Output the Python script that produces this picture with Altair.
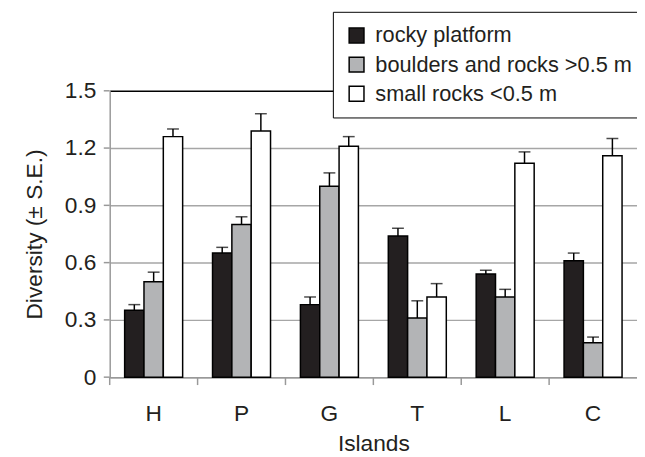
import altair as alt
import pandas as pd

islands = ["H", "P", "G", "T", "L", "C"]
habitats = ["rocky platform", "boulders and rocks >0.5 m", "small rocks <0.5 m"]
rocky_platform = [0.35, 0.65, 0.38, 0.74, 0.54, 0.61]
rocky_platform_se = [0.03, 0.03, 0.04, 0.04, 0.02, 0.04]
boulders = [0.50, 0.80, 1.00, 0.31, 0.42, 0.18]
boulders_se = [0.05, 0.04, 0.07, 0.09, 0.04, 0.03]
small_rocks = [1.26, 1.29, 1.21, 0.42, 1.12, 1.16]
small_rocks_se = [0.04, 0.09, 0.05, 0.07, 0.06, 0.09]
y_ticks = [0, 0.3, 0.6, 0.9, 1.2, 1.5]

rows = []
for vals, ses, hab in [(rocky_platform, rocky_platform_se, habitats[0]),
                       (boulders, boulders_se, habitats[1]),
                       (small_rocks, small_rocks_se, habitats[2])]:
    for isl, v, s in zip(islands, vals, ses):
        rows.append({"island": isl, "habitat": hab, "value": v, "upper": v + s})
df = pd.DataFrame(rows)
ytick_df = pd.DataFrame({"t": y_ticks})
xtick_df = pd.DataFrame({"island": islands})

FONT = "Liberation Sans"
TXT = "#231f20"
AXC = "#999999"
W, H = 534, 290
P_IN = 0.34
P_OUT = P_IN / 2
STEP = W / len(islands)
EDGE_OFF = -STEP * P_IN / 2   # from band start back to the step boundary

x_scale = alt.Scale(domain=islands, paddingInner=P_IN, paddingOuter=P_OUT)
x_enc = alt.X("island:N", sort=islands, title="Islands", scale=x_scale,
              axis=alt.Axis(ticks=False, labelPadding=26, titlePadding=7,
                            labelAngle=0, grid=False))
xo = alt.XOffset("habitat:N", sort=habitats, scale=alt.Scale(paddingInner=0, paddingOuter=0))
y_scale = alt.Scale(domain=[0, 1.5], nice=False)

base = alt.Chart(df)

bars = base.mark_bar(stroke="black", strokeWidth=1.5).encode(
    x=x_enc,
    xOffset=xo,
    y=alt.Y("value:Q", title="Diversity (± S.E.)", scale=y_scale,
            axis=alt.Axis(values=y_ticks, ticks=False, labelPadding=14,
                          labelExpr="datum.value == 0 ? '0' : format(datum.value, '.1f')")),
    color=alt.Color("habitat:N", sort=habitats,
                    scale=alt.Scale(domain=habitats, range=["#231f20", "#b3b4b6", "#ffffff"]),
                    legend=alt.Legend(title=None, orient="none", legendX=226, legendY=-80,
                                      fillColor="white", strokeColor="black", padding=13,
                                      symbolType="square", symbolSize=225,
                                      symbolStrokeColor="black", symbolStrokeWidth=1.5,
                                      labelFontSize=22, labelFont=FONT, labelColor=TXT,
                                      labelOffset=8, rowPadding=7.5, labelLimit=400)),
)

stems = base.mark_rule(color="black", strokeWidth=1.5).encode(
    x=x_enc, xOffset=xo, y="value:Q", y2="upper:Q")

caps = base.mark_tick(color="black", thickness=1.5, size=12, orient="horizontal").encode(
    x=x_enc, xOffset=xo, y="upper:Q")

yticks = alt.Chart(ytick_df).mark_rule(color=AXC, strokeWidth=1.5).encode(
    y=alt.Y("t:Q", scale=y_scale), x=alt.value(-6), x2=alt.value(0))

xticks = alt.Chart(xtick_df).mark_rule(color=AXC, strokeWidth=1.5, xOffset=EDGE_OFF).encode(
    x=alt.X("island:N", sort=islands, scale=x_scale, bandPosition=0),
    y=alt.value(H), y2=alt.value(H + 8))

chart = alt.layer(bars, stems, caps, yticks, xticks).properties(
    width=W, height=H,
    autosize=alt.AutoSizeParams(type="none"),
    padding={"left": 103, "top": 81, "right": 0, "bottom": 78},
).configure_view(stroke=None).configure_axis(
    labelFont=FONT, titleFont=FONT, labelColor=TXT, titleColor=TXT,
    labelFontSize=23, titleFontSize=23, titleFontWeight="normal",
    domainColor=AXC, domainWidth=1.5,
).configure_axisY(
    gridColor={"condition": {"test": "datum.value == 1.5", "value": "black"}, "value": "#a6a6a6"},
    gridWidth=1.5, titlePadding=18, domain=True,
)

chart.save("out.html", embed_options={"renderer": "svg", "actions": False})
